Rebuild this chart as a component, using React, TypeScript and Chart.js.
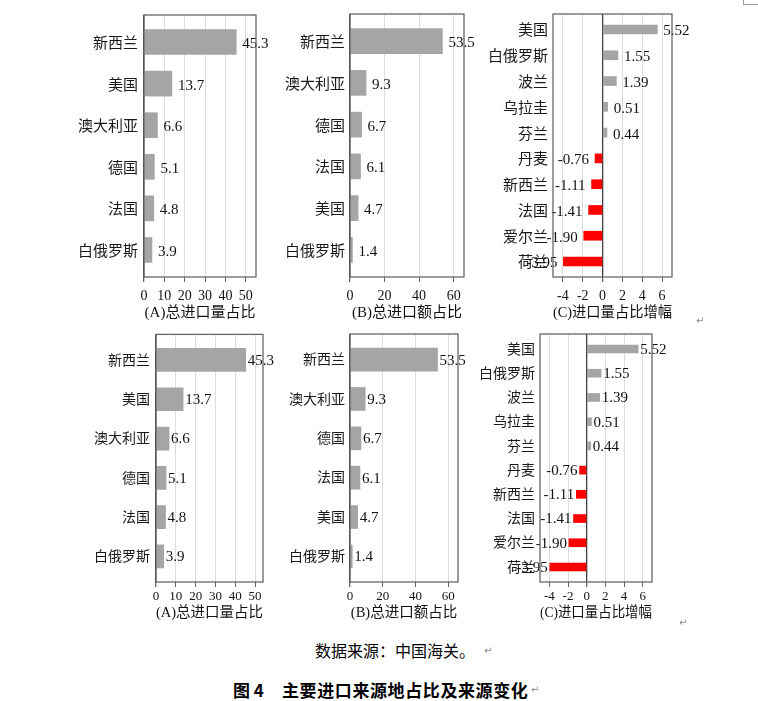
import React, { useEffect, useRef } from 'react';
import { Chart, registerables } from 'chart.js';

Chart.register(...registerables);

// (A) share of total import volume, %
const volCountries = ['新西兰', '美国', '澳大利亚', '德国', '法国', '白俄罗斯'];
const volShare = [45.3, 13.7, 6.6, 5.1, 4.8, 3.9];
const volTicks = [0, 10, 20, 30, 40, 50];

// (B) share of total import value, %
const valCountries = ['新西兰', '澳大利亚', '德国', '法国', '美国', '白俄罗斯'];
const valShare = [53.5, 9.3, 6.7, 6.1, 4.7, 1.4];
const valTicks = [0, 20, 40, 60];

// (C) change of volume share, percentage points
const chgCountries = ['美国', '白俄罗斯', '波兰', '乌拉圭', '芬兰', '丹麦', '新西兰', '法国', '爱尔兰', '荷兰'];
const chgValues = [5.52, 1.55, 1.39, 0.51, 0.44, -0.76, -1.11, -1.41, -1.9, -3.95];
const chgTicks = [-4, -2, 0, 2, 4, 6];

const FONT = '"Liberation Serif", "Noto Sans CJK SC", serif';
const CJK = '"Noto Sans CJK SC", sans-serif';

type PanelProps = {
  left: number;
  top: number;
  width: number;
  height: number;
  yAxisWidth: number;
  padTop: number;
  padRight: number;
  xAxisHeight: number;
  labels: string[];
  values: number[];
  ticks: number[];
  min: number;
  max: number;
  rowPad: number;
  barThickness: number;
  digits: number;
  caption: string;
  catSize: number;
  catPad: number;
  catOffset: number;
  tickSize: number;
  tickPad: number;
  capSize: number;
  valSize: number;
  valGap: number;
  valDy: number;
};

const Panel: React.FC<PanelProps> = (p) => {
  const canvasRef = useRef<HTMLCanvasElement>(null);

  useEffect(() => {
    const canvas = canvasRef.current;
    if (!canvas) return;

    // box around the plot area
    const frame = {
      id: 'frame',
      afterDraw(chart: any) {
        const { ctx, chartArea: a } = chart;
        ctx.save();
        ctx.strokeStyle = '#666666';
        ctx.lineWidth = 1.3;
        ctx.strokeRect(a.left, a.top, a.right - a.left, a.bottom - a.top);
        ctx.restore();
      },
    };

    // value next to the end of each bar
    const valueLabels = {
      id: 'valueLabels',
      afterDatasetsDraw(chart: any) {
        const { ctx } = chart;
        const meta = chart.getDatasetMeta(0);
        ctx.save();
        ctx.font = `${p.valSize}px ${FONT}`;
        ctx.fillStyle = '#111111';
        ctx.textBaseline = 'middle';
        meta.data.forEach((bar: any, i: number) => {
          const v = p.values[i];
          const text = v.toFixed(p.digits);
          if (v >= 0) {
            ctx.textAlign = 'left';
            ctx.fillText(text, bar.x + p.valGap, bar.y + p.valDy);
          } else {
            ctx.textAlign = 'right';
            ctx.fillText(text, bar.x - p.valGap, bar.y + p.valDy);
          }
        });
        ctx.restore();
      },
    };

    const chart = new Chart(canvas, {
      type: 'bar',
      data: {
        datasets: [
          {
            data: p.values.map((v, i) => ({ x: v, y: i })),
            backgroundColor: p.values.map((v) => (v < 0 ? '#ff0000' : '#a5a5a5')),
            borderWidth: 0,
            barThickness: p.barThickness,
          },
        ],
      },
      options: {
        indexAxis: 'y',
        responsive: false,
        maintainAspectRatio: false,
        animation: false,
        layout: { padding: { top: p.padTop, right: p.padRight, left: 0, bottom: 0 } },
        plugins: {
          legend: { display: false },
          tooltip: { enabled: false },
        },
        scales: {
          x: {
            type: 'linear',
            min: p.min,
            max: p.max,
            offset: false,
            afterBuildTicks: (s: any) => {
              s.ticks = p.ticks.map((v) => ({ value: v }));
            },
            afterFit: (s: any) => {
              s.height = p.xAxisHeight;
            },
            grid: {
              color: (c: any) => (c.tick && c.tick.value === 0 ? '#404040' : '#dcdcdc'),
              lineWidth: (c: any) => (c.tick && c.tick.value === 0 ? 1.3 : 1),
              tickColor: '#666666',
              tickLength: 5,
            },
            border: { display: false },
            ticks: {
              autoSkip: false,
              maxRotation: 0,
              padding: p.tickPad,
              color: '#111111',
              font: { family: FONT, size: p.tickSize },
              callback: (v: any) => String(v),
            },
            title: {
              display: true,
              text: p.caption,
              color: '#111111',
              padding: 0,
              font: { family: FONT, size: p.capSize },
            },
          },
          y: {
            type: 'linear',
            reverse: true,
            offset: false,
            min: -p.rowPad,
            max: p.labels.length - 1 + p.rowPad,
            afterBuildTicks: (s: any) => {
              s.ticks = p.labels.map((_, i) => ({ value: i }));
            },
            afterFit: (s: any) => {
              s.width = p.yAxisWidth;
            },
            grid: { display: false, drawTicks: false, offset: false },
            border: { display: false },
            ticks: {
              autoSkip: false,
              padding: p.catPad,
              labelOffset: p.catOffset,
              color: '#1a1a1a',
              font: { family: FONT, size: p.catSize },
              callback: (v: any) => p.labels[v] ?? '',
            },
          },
        },
      },
      plugins: [frame, valueLabels],
    } as any);

    return () => {
      chart.destroy();
    };
  }, []);

  return (
    <canvas
      ref={canvasRef}
      width={p.width}
      height={p.height}
      style={{ position: 'absolute', left: p.left, top: p.top, width: p.width, height: p.height }}
    />
  );
};

const topRow = {
  top: 0,
  height: 322,
  padTop: 13,
  xAxisHeight: 45,
  catSize: 15,
  catOffset: 2,
  tickSize: 14,
  tickPad: 6,
  capSize: 15,
  valSize: 15,
  valGap: 6,
  valDy: 2,
};

const bottomRow = {
  top: 320,
  height: 302,
  padTop: 14,
  xAxisHeight: 40,
  catSize: 14,
  catOffset: 1,
  tickSize: 13,
  tickPad: 2,
  capSize: 14.5,
  valSize: 15,
  valGap: 2,
  valDy: 1,
};

const mark = { position: 'absolute' as const, color: '#8a8a8a', fontSize: 10, fontFamily: '"DejaVu Sans", sans-serif', lineHeight: '10px' };

export default function App() {
  return (
    <div style={{ position: 'absolute', left: 0, top: 0, width: 758, height: 701, background: '#ffffff', overflow: 'hidden' }}>
      <div style={{ position: 'absolute', left: 743, top: 0, width: 15, height: 4, borderLeft: '1px solid #9a9a9a', borderBottom: '1px solid #9a9a9a' }} />

      <Panel {...topRow} left={60} width={220} yAxisWidth={84} padRight={24} labels={volCountries} values={volShare} ticks={volTicks} min={0} max={55} rowPad={0.65} barThickness={25} digits={1} caption="(A)总进口量占比" catPad={6} />
      <Panel {...topRow} left={280} width={206} yAxisWidth={70} padRight={22} labels={valCountries} values={valShare} ticks={valTicks} min={0} max={66} rowPad={0.65} barThickness={25} digits={1} caption="(B)总进口额占比" catPad={5} />
      <Panel {...topRow} left={486} width={224} yAxisWidth={67} padRight={38} labels={chgCountries} values={chgValues} ticks={chgTicks} min={-5} max={7} rowPad={0.6} barThickness={9} digits={2} caption="(C)进口量占比增幅" catPad={5} />

      <Panel {...bottomRow} left={60} width={220} yAxisWidth={96} padRight={17} labels={volCountries} values={volShare} ticks={volTicks} min={0} max={54} rowPad={0.65} barThickness={23} digits={1} caption="(A)总进口量占比" catPad={6} />
      <Panel {...bottomRow} left={280} width={196} yAxisWidth={70} padRight={18} labels={valCountries} values={valShare} ticks={valTicks} min={0} max={66} rowPad={0.65} barThickness={23} digits={1} caption="(B)总进口额占比" catPad={5} />
      <Panel {...bottomRow} left={476} width={234} yAxisWidth={64} padRight={58} labels={chgCountries} values={chgValues} ticks={chgTicks} min={-5} max={7} rowPad={0.62} barThickness={8} digits={2} caption="(C)进口量占比增幅" catPad={5} />

      <span style={{ ...mark, left: 696, top: 316 }}>↵</span>
      <span style={{ ...mark, left: 679, top: 618 }}>↵</span>

      <div style={{ position: 'absolute', left: 315, top: 641, fontFamily: CJK, fontSize: 16, lineHeight: '18px', color: '#000000', whiteSpace: 'nowrap' }}>
        数据来源：中国海关。
      </div>
      <span style={{ ...mark, left: 484, top: 646 }}>↵</span>

      <div style={{ position: 'absolute', left: 233, top: 680, fontFamily: CJK, fontSize: 17, fontWeight: 'bold', lineHeight: '20px', color: '#000000', whiteSpace: 'nowrap' }}>
        图 4
      </div>
      <div style={{ position: 'absolute', left: 282, top: 680, fontFamily: CJK, fontSize: 17, fontWeight: 'bold', letterSpacing: 0.6, lineHeight: '20px', color: '#000000', whiteSpace: 'nowrap' }}>
        主要进口来源地占比及来源变化
      </div>
      <span style={{ ...mark, left: 531, top: 685 }}>↵</span>
    </div>
  );
}
